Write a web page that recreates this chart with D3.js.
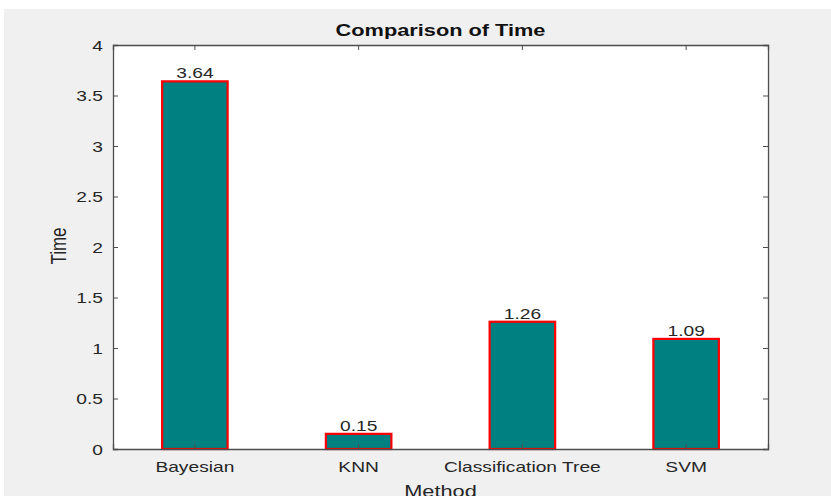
<!DOCTYPE html>
<html>
<head>
<meta charset="utf-8">
<script src="https://cdn.jsdelivr.net/npm/d3@7"></script>
<style>
  body { margin: 0; background: #ffffff; }
  svg { display: block; font-family: "Liberation Sans", Arial, sans-serif; }
</style>
</head>
<body>
<div id="vis"></div>
<script>
// chart data
const methods = ["Bayesian", "KNN", "Classification Tree", "SVM"];
const times = [3.64, 0.15, 1.26, 1.09];
const yTicks = [0, 0.5, 1, 1.5, 2, 2.5, 3, 3.5, 4];

let margin = { top: 45, left: 113, right: 63, bottom: 47 },
  width = 831 - margin.left - margin.right,
  height = 496 - margin.top - margin.bottom;

// the original screenshot is stretched sideways, text looks wide
const sx = 1.28;

let svg = d3
  .select("#vis")
  .append("svg")
  .attr("width", 831)
  .attr("height", 496);

// grey figure background
svg.append("rect")
  .attr("x", 4).attr("y", 9)
  .attr("width", 827).attr("height", 487)
  .attr("fill", "#f0f0f0");

let g = svg.append("g").attr("transform", `translate(${margin.left},${margin.top})`);

g.append("rect")
  .attr("width", width).attr("height", height)
  .attr("fill", "white");

let x = d3.scaleBand().domain(methods).range([0, width]).paddingInner(0).paddingOuter(0);
let y = d3.scaleLinear().domain([0, 4]).range([height, 0]);
const barW = x.bandwidth() * 0.4;

// bars
g.selectAll(".bar")
  .data(methods)
  .join("rect")
  .attr("class", "bar")
  .attr("x", (d) => x(d) + x.bandwidth() / 2 - barW / 2)
  .attr("y", (d, i) => y(times[i]))
  .attr("width", barW)
  .attr("height", (d, i) => height - y(times[i]))
  .attr("fill", "#008080")
  .attr("stroke", "#ff0000")
  .attr("stroke-width", 2.2);

// value labels
g.selectAll(".val")
  .data(methods)
  .join("text")
  .attr("class", "val")
  .attr("transform", (d, i) => `translate(${x(d) + x.bandwidth() / 2},${y(times[i]) - 3}) scale(${sx},1)`)
  .attr("text-anchor", "middle")
  .attr("font-size", 15)
  .attr("fill", "#262626")
  .text((d, i) => times[i].toFixed(2));

const axisCol = "#4d4d4d";

// axes (ticks inside, mirrored on top/right)
let yAxis = g.append("g").call(d3.axisLeft(y).tickValues(yTicks).tickSize(-5).tickPadding(0).tickFormat(d3.format("")));
let yAxisR = g.append("g").attr("transform", `translate(${width},0)`)
  .call(d3.axisRight(y).tickValues(yTicks).tickSize(-5).tickFormat(""));
let xAxis = g.append("g").attr("transform", `translate(0,${height})`)
  .call(d3.axisBottom(x).tickSize(-5).tickPadding(0));
let xAxisT = g.append("g").call(d3.axisTop(x).tickSize(-5).tickFormat(""));

[yAxis, yAxisR, xAxis, xAxisT].forEach((a) => {
  a.select(".domain").attr("stroke", axisCol).attr("stroke-width", 1.3);
  a.selectAll(".tick line").attr("stroke", axisCol);
  a.selectAll(".tick text").attr("fill", "#262626").attr("font-size", 15)
    .attr("font-family", "Liberation Sans, Arial, sans-serif");
});
// hide ticks at the box ends
yAxis.selectAll(".tick").filter((d) => d === 0 || d === 4).select("line").remove();
yAxisR.selectAll(".tick").filter((d) => d === 0 || d === 4).select("line").remove();
yAxis.selectAll(".tick text")
  .attr("x", 0).attr("dy", null)
  .attr("transform", `translate(-10,5) scale(${sx},1)`);
xAxis.selectAll(".tick text")
  .attr("y", 0).attr("dy", null)
  .attr("transform", `translate(0,23) scale(${sx},1)`);

// title
svg.append("text")
  .attr("transform", `translate(${margin.left + width / 2},36) scale(${sx},1)`)
  .attr("text-anchor", "middle")
  .attr("font-size", 17)
  .attr("font-weight", "bold")
  .attr("fill", "#111")
  .text("Comparison of Time");

// axis labels
svg.append("text")
  .attr("transform", `translate(${margin.left + width / 2},497) scale(${sx},1)`)
  .attr("text-anchor", "middle")
  .attr("font-size", 17)
  .attr("fill", "#262626")
  .text("Method");

svg.append("text")
  .attr("transform", `translate(66,${margin.top + height / 2 - 1}) scale(${sx},1) rotate(-90)`)
  .attr("text-anchor", "middle")
  .attr("font-size", 17)
  .attr("fill", "#262626")
  .text("Time");
</script>
</body>
</html>
